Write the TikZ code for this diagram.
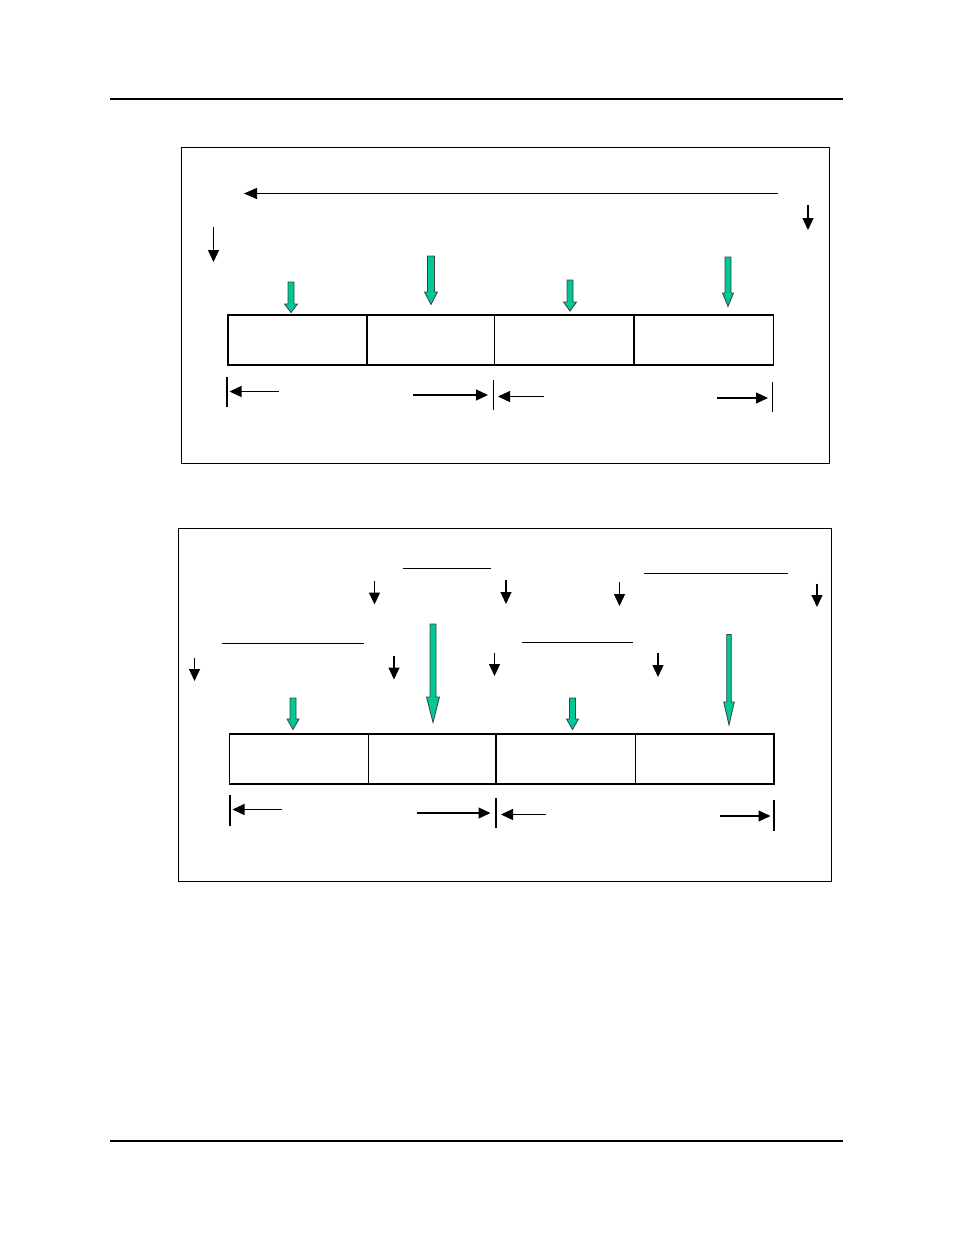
\documentclass[tikz,border=0pt]{standalone}
\usepackage{tikz}
\usepackage{xcolor}
\usetikzlibrary{arrows.meta,positioning}

\definecolor{tealgreen}{RGB}{0,200,150}

\tikzset{
	frame/.style={draw, line width=1pt, outer sep=0pt},
	rule/.style={line width=1.3pt},
	cell/.style={draw, rectangle, line width=1.3pt, anchor=north west, inner sep=0pt, outer sep=0pt, minimum height=50pt},
	blackarrow/.style={-{Triangle[length=12pt,width=11pt]}, line width=1.2pt},
	tick/.style={line width=1.1pt},
	bar/.style={line width=1.2pt},
}

% x, top, head start, tip, half shaft, half head
\newcommand{\tealdrop}[6]{%
	\filldraw[fill=tealgreen, draw=black!75, line width=0.8pt, line join=miter]
		(#1-#5,#2) -- (#1+#5,#2) -- (#1+#5,#3) -- (#1+#6,#3) -- (#1,#4)
		-- (#1-#6,#3) -- (#1-#5,#3) -- cycle;}

\begin{document}
\begin{tikzpicture}[x=1pt, y=-1pt]
	\useasboundingbox (0,0) rectangle (954,1235);

	% page rules
	\coordinate (ruleTopL) at (110,99);
	\coordinate (ruleTopR) at (843,99);
	\coordinate (ruleBotL) at (110,1141);
	\coordinate (ruleBotR) at (843,1141);
	\draw[rule] (ruleTopL) -- (ruleTopR);
	\draw[rule] (ruleBotL) -- (ruleBotR);

	% ---- upper panel ----
	\node[frame, anchor=north west, minimum width=648pt, minimum height=316pt, inner sep=0pt] (panelA) at (181.5,147.5) {};

	\coordinate (sweepA) at (778,193.5);
	\coordinate (sweepB) at (244,193.5);
	\draw[blackarrow, -{Triangle[length=13pt,width=11pt]}] (sweepA) -- (sweepB);

	\coordinate (dropAs1) at (808,205);
	\coordinate (dropAe1) at (808,230);
	\coordinate (dropAs2) at (213.5,227);
	\coordinate (dropAe2) at (213.5,262);
	\draw[blackarrow] (dropAs1) -- (dropAe1);
	\draw[blackarrow] (dropAs2) -- (dropAe2);

	\node[cell, minimum width=138.6pt] (cellA1) at (228,315) {};
	\node[cell, minimum width=128.1pt] (cellA2) at (cellA1.north east) {};
	\node[cell, minimum width=138.9pt] (cellA3) at (cellA2.north east) {};
	\node[cell, minimum width=140.2pt] (cellA4) at (cellA3.north east) {};
	\draw[line width=2.4pt] (cellA1.south west) -- (cellA4.south east);
	\draw[line width=2pt] (cellA1.north east) -- (cellA1.south east);
	\draw[line width=2pt] (cellA3.north east) -- (cellA3.south east);

	\tealdrop{291}{282}{304}{312.5}{3}{6.5}
	\tealdrop{431}{256}{292}{304.5}{3.5}{6.5}
	\tealdrop{570}{280}{302}{311}{3}{6.5}
	\tealdrop{728}{257}{293}{306.5}{3}{5.5}

	% span marks
	\coordinate (tickA1t) at (227,377);   \coordinate (tickA1b) at (227,407);
	\coordinate (tickA2t) at (493.5,380); \coordinate (tickA2b) at (493.5,409.5);
	\coordinate (tickA3t) at (772.5,382); \coordinate (tickA3b) at (772.5,412);
	\foreach \k in {1,2,3}
		\draw[tick] (tickA\k t) -- (tickA\k b);
	\coordinate (spanA1s) at (279,391.5); \coordinate (spanA1e) at (229.5,391.5);
	\coordinate (spanA2s) at (413,395);   \coordinate (spanA2e) at (488,395);
	\coordinate (spanA3s) at (544,396.5); \coordinate (spanA3e) at (498,396.5);
	\coordinate (spanA4s) at (717,398);   \coordinate (spanA4e) at (768,398);
	\foreach \k in {1,...,4}
		\draw[blackarrow] (spanA\k s) -- (spanA\k e);

	% ---- lower panel ----
	\node[frame, anchor=north west, minimum width=653pt, minimum height=353pt, inner sep=0pt] (panelB) at (178.5,528.5) {};

	\foreach \xa/\xb/\y [count=\k] in {402.5/491/568.5, 643.5/787.5/573.5, 221.5/364/643.5, 522/632.5/642.5} {
		\coordinate (barB\k l) at (\xa,\y);
		\coordinate (barB\k r) at (\xb,\y);
		\draw[bar] (barB\k l) -- (barB\k r);
	}

	\foreach \x/\ya/\yb [count=\k] in {374.5/581/604.5, 506/580/604, 619.5/582/606, 817/583.5/607,
			194.5/657.5/681, 394/656/679.5, 494.5/652.5/676, 658/653/677} {
		\coordinate (dropBs\k) at (\x,\ya);
		\coordinate (dropBe\k) at (\x,\yb);
		\draw[blackarrow] (dropBs\k) -- (dropBe\k);
	}

	\node[cell, minimum width=139.3pt] (cellB1) at (229.5,734) {};
	\node[cell, minimum width=127.2pt] (cellB2) at (cellB1.north east) {};
	\node[cell, minimum width=139.3pt] (cellB3) at (cellB2.north east) {};
	\node[cell, minimum width=138.7pt] (cellB4) at (cellB3.north east) {};
	\draw[line width=2.4pt] (cellB1.south west) -- (cellB4.south east);

	\tealdrop{293}{698}{719}{729.5}{3}{6}
	\tealdrop{433}{624}{697}{722.5}{3}{6.5}
	\tealdrop{572.5}{698}{719}{729.5}{3}{6}
	\tealdrop{729}{634.5}{702}{725}{2.3}{5.3}

	% span marks
	\coordinate (tickB1t) at (230,795);   \coordinate (tickB1b) at (230,826);
	\coordinate (tickB2t) at (496,798);   \coordinate (tickB2b) at (496,827.5);
	\coordinate (tickB3t) at (774,800);   \coordinate (tickB3b) at (774,830.5);
	\foreach \k in {1,2,3}
		\draw[tick] (tickB\k t) -- (tickB\k b);
	\coordinate (spanB1s) at (281.5,809.5); \coordinate (spanB1e) at (232.5,809.5);
	\coordinate (spanB2s) at (416.5,813);   \coordinate (spanB2e) at (490.5,813);
	\coordinate (spanB3s) at (546,814.5);   \coordinate (spanB3e) at (501,814.5);
	\coordinate (spanB4s) at (720,816);     \coordinate (spanB4e) at (770.5,816);
	\foreach \k in {1,...,4}
		\draw[blackarrow] (spanB\k s) -- (spanB\k e);
\end{tikzpicture}
\end{document}
